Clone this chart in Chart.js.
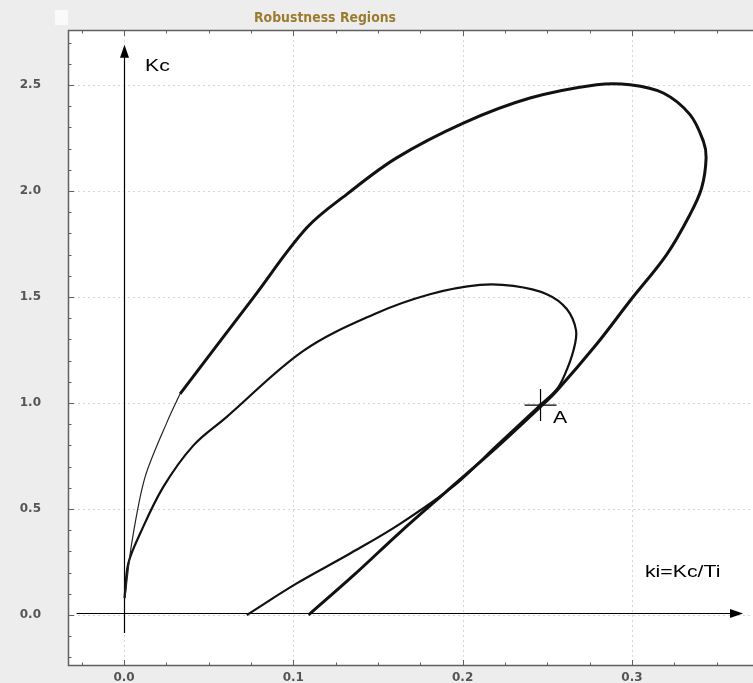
<!DOCTYPE html>
<html>
<head>
<meta charset="utf-8">
<script src="https://cdn.jsdelivr.net/npm/chart.js@4.4.1/dist/chart.umd.min.js"></script>
<style>
  html, body { margin: 0; padding: 0; background: #ededed; overflow: hidden; }
  #wrap { width: 753px; height: 683px; position: relative; }
  #robustChart { display: block; }
</style>
</head>
<body>
<div id="wrap"><canvas id="robustChart"></canvas></div>
<script>
// outer boundary (thick part), from the ki axis round the big loop
var outerKi = [0.109, 0.136, 0.163, 0.190, 0.2181, 0.2457, 0.2556, 0.2792, 0.2989, 0.3205, 0.3343, 0.3412, 0.3438, 0.3422, 0.3343, 0.3185, 0.2989, 0.2792, 0.2398, 0.2004, 0.161, 0.1315, 0.1079, 0.0764, 0.0331];
var outerKc = [0.0, 0.19, 0.39, 0.58, 0.776, 0.98, 1.058, 1.278, 1.482, 1.70, 1.889, 2.015, 2.156, 2.234, 2.36, 2.462, 2.501, 2.501, 2.438, 2.32, 2.156, 1.984, 1.826, 1.497, 1.043];
// outer boundary, thin tail down to the Kc axis
var thinKi = [0.0331, 0.0262, 0.0124, 0.0045, 0.0006, 0.0003];
var thinKc = [1.043, 0.925, 0.65, 0.337, 0.086, 0.08];
// inner boundary
var innerKi = [0.0725, 0.102, 0.1335, 0.163, 0.1965, 0.2181, 0.2457, 0.2556, 0.2605, 0.2654, 0.267, 0.2615, 0.2497, 0.23, 0.2103, 0.1807, 0.148, 0.1059, 0.06, 0.041, 0.0232, 0.0095, 0.0025, 0.0003];
var innerKc = [0.0, 0.149, 0.29, 0.43, 0.62, 0.785, 0.99, 1.065, 1.137, 1.246, 1.341, 1.443, 1.513, 1.552, 1.557, 1.513, 1.42, 1.246, 0.93, 0.80, 0.604, 0.384, 0.243, 0.08];
// operating point A
var pointKi = [0.246];
var pointKc = [0.99];

var xTicks = [0.0, 0.1, 0.2, 0.3];
var yTicks = [0.0, 0.5, 1.0, 1.5, 2.0, 2.5];
var xMinorStep = 0.025;
var yMinorStep = 0.1;

function pts(xs, ys) {
  return xs.map(function(x, i){ return { x: x, y: ys[i] }; });
}

function stretchText(ctx, text, x, y, font, sx, align) {
  ctx.save();
  ctx.font = font;
  ctx.textBaseline = 'middle';
  ctx.textAlign = align || 'left';
  ctx.translate(x, y);
  ctx.scale(sx, 1);
  ctx.fillText(text, 0, 0);
  ctx.restore();
}

function arrowHead(ctx, x, y, dir) {
  ctx.beginPath();
  if (dir === 'up') {
    ctx.moveTo(x, y); ctx.lineTo(x - 4.5, y + 13); ctx.lineTo(x + 4.5, y + 13);
  } else {
    ctx.moveTo(x, y); ctx.lineTo(x - 13, y - 4.5); ctx.lineTo(x - 13, y + 4.5);
  }
  ctx.closePath();
  ctx.fill();
}

var decor = {
  id: 'decor',
  beforeDraw: function(chart) {
    var ctx = chart.ctx, a = chart.chartArea;
    ctx.save();
    ctx.fillStyle = '#ffffff';
    ctx.fillRect(a.left, a.top, a.right - a.left, a.bottom - a.top);
    // small blank box at the top left
    ctx.fillStyle = '#fafafa';
    ctx.fillRect(a.left - 13, 10, 13, 15);
    // title
    ctx.fillStyle = '#9b7b2f';
    ctx.font = 'bold 14px "Liberation Sans Narrow", "DejaVu Sans Condensed", "Liberation Sans", sans-serif';
    var w = ctx.measureText('Robustness Regions').width;
    stretchText(ctx, 'Robustness Regions', 325, 18, ctx.font, 142 / w, 'center');
    ctx.restore();
  },
  beforeDatasetsDraw: function(chart) {
    var ctx = chart.ctx, a = chart.chartArea;
    var xs = chart.scales.x, ys = chart.scales.y;
    ctx.save();
    // dotted grid
    ctx.strokeStyle = '#d6d6d6';
    ctx.lineWidth = 1;
    ctx.setLineDash([2, 3]);
    xTicks.forEach(function(v){
      var px = Math.round(xs.getPixelForValue(v)) + 0.5;
      ctx.beginPath(); ctx.moveTo(px, a.top); ctx.lineTo(px, a.bottom); ctx.stroke();
    });
    yTicks.forEach(function(v){
      var py = Math.round(ys.getPixelForValue(v)) + 0.5;
      ctx.beginPath(); ctx.moveTo(a.left, py); ctx.lineTo(a.right, py); ctx.stroke();
    });
    ctx.setLineDash([]);
    // frame
    ctx.strokeStyle = '#606060';
    ctx.lineWidth = 1.5;
    ctx.beginPath();
    ctx.moveTo(a.right, a.top + 0.5); ctx.lineTo(a.left + 0.5, a.top + 0.5);
    ctx.lineTo(a.left + 0.5, a.bottom - 0.5); ctx.lineTo(a.right, a.bottom - 0.5);
    ctx.stroke();
    // inward ticks
    ctx.lineWidth = 1;
    var v, i, px, py, len;
    for (i = Math.ceil(xs.min / xMinorStep); i * xMinorStep <= xs.max; i++) {
      v = i * xMinorStep;
      px = Math.round(xs.getPixelForValue(v)) + 0.5;
      len = (i % 4 === 0) ? 6 : 3.5;
      ctx.beginPath(); ctx.moveTo(px, a.bottom); ctx.lineTo(px, a.bottom - len); ctx.stroke();
      ctx.beginPath(); ctx.moveTo(px, a.top); ctx.lineTo(px, a.top + len); ctx.stroke();
    }
    for (i = Math.ceil(ys.min / yMinorStep); i * yMinorStep <= ys.max; i++) {
      v = i * yMinorStep;
      py = Math.round(ys.getPixelForValue(v)) + 0.5;
      len = (i % 5 === 0) ? 6 : 3.5;
      ctx.beginPath(); ctx.moveTo(a.left, py); ctx.lineTo(a.left + len, py); ctx.stroke();
    }
    // drawn axes with arrows
    ctx.strokeStyle = '#000';
    ctx.fillStyle = '#000';
    ctx.lineWidth = 1.2;
    var x0 = Math.round(xs.getPixelForValue(0)) + 0.5;
    var vTop = ys.getPixelForValue(2.69), vBot = ys.getPixelForValue(-0.085);
    ctx.beginPath(); ctx.moveTo(x0, vBot); ctx.lineTo(x0, vTop + 10); ctx.stroke();
    arrowHead(ctx, x0, vTop, 'up');
    var y0 = Math.round(ys.getPixelForValue(0.01)) + 0.5;
    var hL = xs.getPixelForValue(-0.028), hR = xs.getPixelForValue(0.3656);
    ctx.beginPath(); ctx.moveTo(hL, y0); ctx.lineTo(hR - 10, y0); ctx.stroke();
    arrowHead(ctx, hR, y0, 'right');
    ctx.restore();
  },
  afterDatasetsDraw: function(chart) {
    var ctx = chart.ctx;
    var xs = chart.scales.x, ys = chart.scales.y;
    ctx.save();
    ctx.fillStyle = '#000';
    var f = '17px "Liberation Sans", Arial, sans-serif';
    stretchText(ctx, 'Kc', xs.getPixelForValue(0.0124), ys.getPixelForValue(2.59), f, 1.25);
    stretchText(ctx, 'ki=Kc/Ti', xs.getPixelForValue(0.3077), ys.getPixelForValue(0.202), f, 1.25);
    stretchText(ctx, 'A', xs.getPixelForValue(0.2534), ys.getPixelForValue(0.927), f, 1.25);
    ctx.restore();
  }
};

var ctxEl = document.getElementById('robustChart');
new Chart(ctxEl, {
  type: 'scatter',
  data: {
    datasets: [
      { data: pts(outerKi, outerKc), showLine: true, borderColor: '#111', borderWidth: 3, pointRadius: 0, tension: 0.35, fill: false },
      { data: pts(thinKi, thinKc), showLine: true, borderColor: '#222', borderWidth: 1.2, pointRadius: 0, tension: 0.3, fill: false },
      { data: pts(innerKi, innerKc), showLine: true, borderColor: '#111', borderWidth: 2.2, pointRadius: 0, tension: 0.35, fill: false },
      { data: pts(pointKi, pointKc), pointStyle: 'cross', pointRadius: 16, borderColor: '#000', borderWidth: 1.2 },
      { data: pts(pointKi, pointKc), pointStyle: 'circle', pointRadius: 2, borderWidth: 0, backgroundColor: '#c0392b' }
    ]
  },
  options: {
    responsive: true,
    maintainAspectRatio: false,
    animation: false,
    devicePixelRatio: 1,
    layout: { autoPadding: false, padding: { top: 30, left: 0, right: 0, bottom: 0 } },
    plugins: { legend: { display: false }, title: { display: false }, tooltip: { enabled: false } },
    scales: {
      x: {
        type: 'linear', min: -0.0331, max: 0.3715,
        afterBuildTicks: function(s){ s.ticks = xTicks.map(function(v){ return { value: v }; }); },
        afterFit: function(s){ s.height = 17; s.paddingLeft = 0; s.paddingRight = 0; },
        grid: { display: false, drawTicks: false },
        border: { display: false },
        ticks: {
          padding: 5, color: '#555',
          font: { family: '"DejaVu Sans", sans-serif', size: 12, weight: 'bold' },
          callback: function(v){ return Number(v).toFixed(1); }
        }
      },
      y: {
        type: 'linear', min: -0.2406, max: 2.759,
        afterBuildTicks: function(s){ s.ticks = yTicks.map(function(v){ return { value: v }; }); },
        afterFit: function(s){ s.width = 68; s.paddingTop = 0; s.paddingBottom = 0; },
        grid: { display: false, drawTicks: false },
        border: { display: false },
        ticks: {
          padding: 27, color: '#555',
          font: { family: '"DejaVu Sans", sans-serif', size: 12, weight: 'bold' },
          callback: function(v){ return Number(v).toFixed(1); }
        }
      }
    }
  },
  plugins: [decor]
});
</script>
</body>
</html>
